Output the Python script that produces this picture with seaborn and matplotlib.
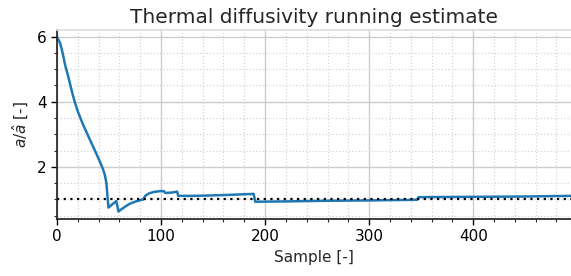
import numpy as np
import pandas as pd
import seaborn as sns
import matplotlib.pyplot as plt
from matplotlib.ticker import MultipleLocator

# Running estimate (sample index, ratio)
samples = [0, 3, 5, 8, 11, 14, 17, 20, 25, 30, 35, 40, 44, 46, 47.5, 48.5, 49.5,
           52, 55, 57, 58, 59, 62, 66, 70, 75, 80, 83, 84.5, 88, 93, 100, 103, 104,
           110, 115.5, 116.5, 130, 145, 165, 189, 190.5, 220, 260, 300, 346, 347.5,
           400, 450, 494]
ratio = [5.98, 5.8, 5.55, 5.1, 4.75, 4.35, 4.0, 3.7, 3.3, 2.95, 2.6, 2.25, 1.95, 1.75, 1.5, 1.1, 0.75,
         0.82, 0.9, 0.95, 0.8, 0.63, 0.7, 0.79, 0.87, 0.93, 0.98, 1.0, 1.1, 1.18, 1.23, 1.26, 1.25, 1.2,
         1.21, 1.24, 1.11, 1.11, 1.12, 1.14, 1.17, 0.93, 0.94, 0.96, 0.97, 0.99, 1.07,
         1.08, 1.09, 1.11]
reference_value = 1.0

df = pd.DataFrame({"sample": samples, "ratio": ratio})

sns.set_theme(style="ticks")
plt.rcParams['font.family'] = ['DejaVu Sans']

fig = plt.figure(figsize=(5.71, 2.76), dpi=100)
ax = fig.add_axes([57 / 571, 1 - 219 / 276, 1 - 57 / 571, (219 - 30) / 276])

sns.lineplot(data=df, x="sample", y="ratio", ax=ax, color="#1f77b4", linewidth=1.8)
ax.axhline(reference_value, color="black", linestyle=(0, (1, 2)), linewidth=1.6)

ax.set_xlim(0, 494)
ax.set_ylim(0.4, 6.2)
ax.xaxis.set_major_locator(MultipleLocator(100))
ax.xaxis.set_minor_locator(MultipleLocator(20))
ax.yaxis.set_major_locator(MultipleLocator(2))
ax.yaxis.set_minor_locator(MultipleLocator(0.5))

ax.grid(which="major", color="#cccccc", linewidth=1.0)
ax.grid(which="minor", color="#d5d5d5", linestyle=":", linewidth=0.9)
ax.set_axisbelow(True)

ax.spines["right"].set_visible(False)
ax.spines["top"].set_color("#dddddd")
ax.tick_params(which="major", length=4, width=1, labelsize=11, colors="black")
ax.tick_params(which="minor", length=2, width=0.8)

ax.set_xlabel("Sample [-]", fontsize=11)
ax.set_ylabel(r"$a/\hat{a}$ [-]", fontsize=11)
ax.set_title("Thermal diffusivity running estimate", fontsize=14.5, pad=5)

fig.savefig("out.png", dpi=100)
